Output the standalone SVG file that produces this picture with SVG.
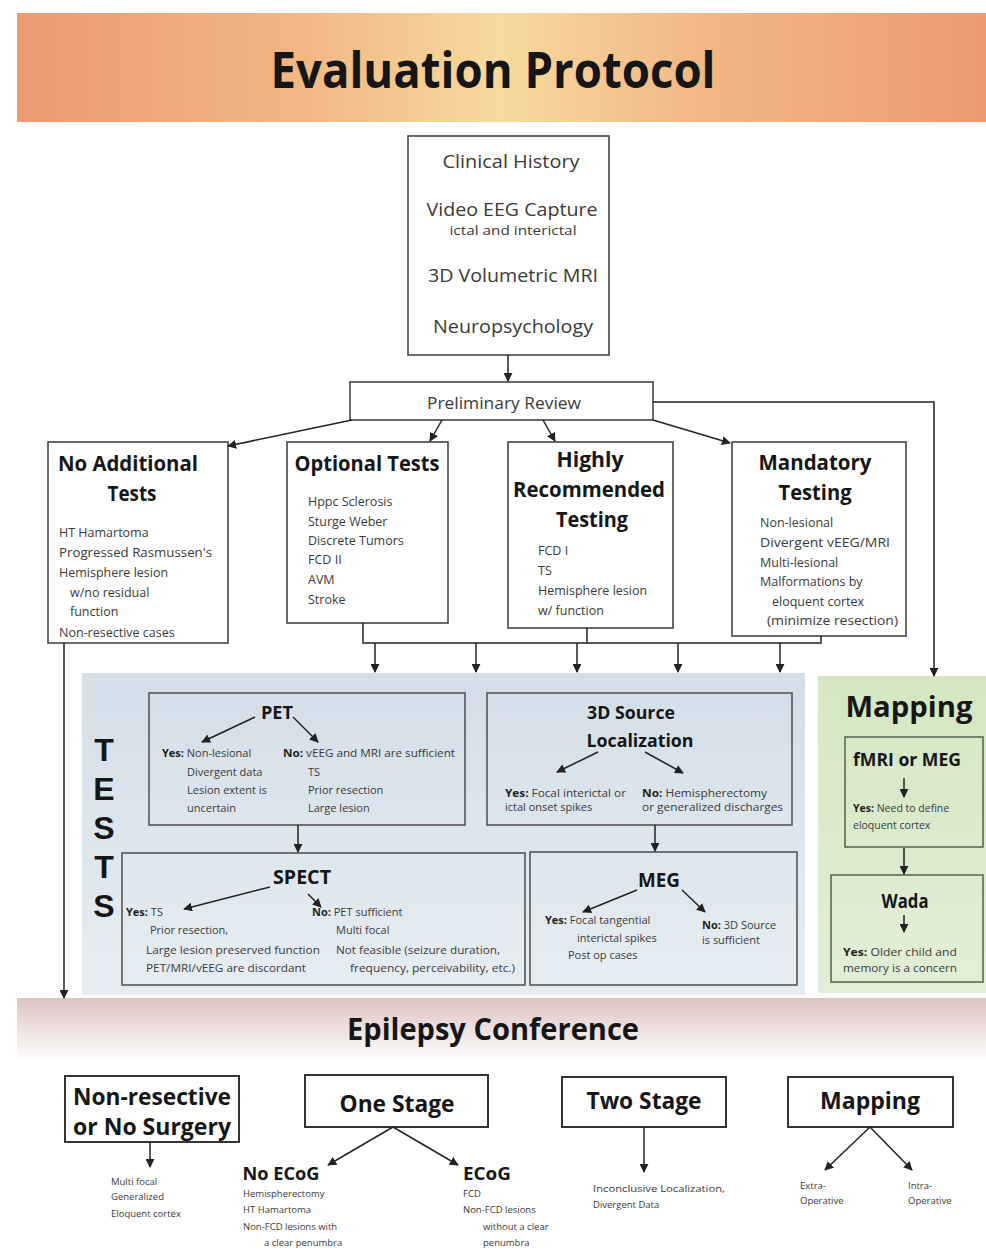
<svg xmlns="http://www.w3.org/2000/svg" width="986" height="1252" viewBox="0 0 986 1252">
<style>
.box{fill:#fff;stroke:#444;stroke-width:1.6}
.bbox{fill:#fff;stroke:#333;stroke-width:2}
.ibox{fill:none;stroke:#555;stroke-width:1.6}
.gbox{fill:none;stroke:#5a6a55;stroke-width:1.6}
.h{font-family:'Open Sans','Liberation Sans',sans-serif;font-weight:700;fill:#161616;text-anchor:middle}
.tl{font-family:'Liberation Sans',sans-serif;font-weight:700;fill:#161616;text-anchor:middle}
.t{font-family:'Open Sans','Liberation Sans',sans-serif;fill:#3a3a3a}
.tc{font-family:'Open Sans','Liberation Sans',sans-serif;fill:#3a3a3a;text-anchor:middle}
.b{font-weight:700;fill:#222}
.c{stroke:#222;stroke-width:1.5;fill:none}
.ca{stroke:#222;stroke-width:1.5;fill:none;marker-end:url(#ah)}
</style>
<defs>
<marker id="ah" viewBox="0 0 10 10" refX="9" refY="5" markerWidth="9" markerHeight="9" markerUnits="userSpaceOnUse" orient="auto"><path d="M0,0 L10,5 L0,10 z" fill="#222"/></marker>
<linearGradient id="gTitle" x1="0" y1="0" x2="1" y2="0">
<stop offset="0" stop-color="#ec9a70"/><stop offset="0.3" stop-color="#f1b884"/><stop offset="0.5" stop-color="#f7da9e"/><stop offset="0.7" stop-color="#f1b884"/><stop offset="1" stop-color="#ec9a70"/>
</linearGradient>
<linearGradient id="gBlue" x1="0" y1="0" x2="0" y2="1">
<stop offset="0" stop-color="#d2dee8"/><stop offset="0.5" stop-color="#dde6ed"/><stop offset="1" stop-color="#e6edf2"/>
</linearGradient>
<linearGradient id="gGreen" x1="0" y1="0" x2="0" y2="1">
<stop offset="0" stop-color="#d3e7c2"/><stop offset="1" stop-color="#e2efd8"/>
</linearGradient>
<linearGradient id="gConf" x1="0" y1="0" x2="0" y2="1">
<stop offset="0" stop-color="#dcc4c0"/><stop offset="0.5" stop-color="#eee2e0"/><stop offset="1" stop-color="#ffffff"/>
</linearGradient>
</defs>
<rect width="986" height="1252" fill="#fff"/>

<g id="title">
<rect x="17" y="13" width="969" height="109" fill="url(#gTitle)"/>
<text class="h" x="493" y="88" font-size="50" textLength="445" lengthAdjust="spacingAndGlyphs">Evaluation Protocol</text>
</g>

<g id="panels">
<rect id="tests-panel" x="82" y="673" width="723" height="322" fill="url(#gBlue)"/>
<rect id="mapping-panel" x="818" y="676" width="168" height="317" fill="url(#gGreen)"/>
<rect id="conference-band" x="17" y="998" width="969" height="64" fill="url(#gConf)"/>
</g>

<g id="clinical">
<rect class="box" x="408" y="136" width="201" height="219"/>
<text class="tc" x="511" y="168" font-size="19" textLength="137" lengthAdjust="spacingAndGlyphs">Clinical History</text>
<text class="tc" x="512" y="216" font-size="19" textLength="171" lengthAdjust="spacingAndGlyphs">Video EEG Capture</text>
<text class="tc" x="513" y="235" font-size="13" textLength="127" lengthAdjust="spacingAndGlyphs">ictal and interictal</text>
<text class="tc" x="513" y="282" font-size="19" textLength="170" lengthAdjust="spacingAndGlyphs">3D Volumetric MRI</text>
<text class="tc" x="513" y="333" font-size="19" textLength="160" lengthAdjust="spacingAndGlyphs">Neuropsychology</text>
</g>

<g id="prelim">
<rect class="box" x="350" y="382" width="303" height="38"/>
<text class="tc" x="504" y="409" font-size="16" textLength="154" lengthAdjust="spacingAndGlyphs">Preliminary Review</text>
</g>

<g id="no-additional">
<rect class="box" x="48" y="442" width="180" height="201"/>
<text class="h" x="128" y="471" font-size="21" textLength="140" lengthAdjust="spacingAndGlyphs">No Additional</text>
<text class="h" x="132" y="501" font-size="21" textLength="49" lengthAdjust="spacingAndGlyphs">Tests</text>
<text class="t" x="59" y="537" font-size="12.5">HT Hamartoma</text>
<text class="t" x="59" y="557" font-size="12.5" textLength="153" lengthAdjust="spacingAndGlyphs">Progressed Rasmussen's</text>
<text class="t" x="59" y="577" font-size="12.5">Hemisphere lesion</text>
<text class="t" x="70" y="597" font-size="12.5">w/no residual</text>
<text class="t" x="70" y="616" font-size="12.5">function</text>
<text class="t" x="59" y="637" font-size="12.5">Non-resective cases</text>
</g>

<g id="optional">
<rect class="box" x="287" y="442" width="161" height="181"/>
<text class="h" x="367" y="471" font-size="21" textLength="145" lengthAdjust="spacingAndGlyphs">Optional Tests</text>
<text class="t" x="308" y="506" font-size="12.5">Hppc Sclerosis</text>
<text class="t" x="308" y="526" font-size="12.5">Sturge Weber</text>
<text class="t" x="308" y="545" font-size="12.5">Discrete Tumors</text>
<text class="t" x="308" y="564" font-size="12.5">FCD II</text>
<text class="t" x="308" y="584" font-size="12.5">AVM</text>
<text class="t" x="308" y="604" font-size="12.5">Stroke</text>
</g>

<g id="highly">
<rect class="box" x="508" y="442" width="165" height="186"/>
<text class="h" x="590" y="467" font-size="21" textLength="67" lengthAdjust="spacingAndGlyphs">Highly</text>
<text class="h" x="589" y="497" font-size="21" textLength="152" lengthAdjust="spacingAndGlyphs">Recommended</text>
<text class="h" x="592" y="527" font-size="21" textLength="72" lengthAdjust="spacingAndGlyphs">Testing</text>
<text class="t" x="538" y="555" font-size="12.5">FCD I</text>
<text class="t" x="538" y="575" font-size="12.5">TS</text>
<text class="t" x="538" y="595" font-size="12.5">Hemisphere lesion</text>
<text class="t" x="538" y="615" font-size="12.5">w/ function</text>
</g>

<g id="mandatory">
<rect class="box" x="732" y="442" width="174" height="194"/>
<text class="h" x="815" y="470" font-size="21" textLength="113" lengthAdjust="spacingAndGlyphs">Mandatory</text>
<text class="h" x="815" y="500" font-size="21" textLength="73" lengthAdjust="spacingAndGlyphs">Testing</text>
<text class="t" x="760" y="527" font-size="12.5">Non-lesional</text>
<text class="t" x="760" y="547" font-size="12.5" textLength="130" lengthAdjust="spacingAndGlyphs">Divergent vEEG/MRI</text>
<text class="t" x="760" y="567" font-size="12.5">Multi-lesional</text>
<text class="t" x="760" y="586" font-size="12.5">Malformations by</text>
<text class="t" x="772" y="606" font-size="12.5">eloquent cortex</text>
<text class="t" x="767" y="625" font-size="12.5" textLength="131" lengthAdjust="spacingAndGlyphs">(minimize resection)</text>
</g>

<g id="tests-label">
<text class="tl" x="104" y="761" font-size="32">T</text>
<text class="tl" x="104" y="800" font-size="32">E</text>
<text class="tl" x="104" y="839" font-size="32">S</text>
<text class="tl" x="104" y="878" font-size="32">T</text>
<text class="tl" x="104" y="917" font-size="32">S</text>
</g>

<g id="pet">
<rect class="ibox" x="149" y="693" width="316" height="132"/>
<text class="h" x="277" y="719" font-size="18" textLength="32" lengthAdjust="spacingAndGlyphs">PET</text>
<text class="t" x="162" y="757" font-size="11"><tspan class="b">Yes:</tspan> Non-lesional</text>
<text class="t" x="187" y="776" font-size="11">Divergent data</text>
<text class="t" x="187" y="794" font-size="11">Lesion extent is</text>
<text class="t" x="187" y="812" font-size="11">uncertain</text>
<text class="t" x="283" y="757" font-size="11" textLength="172" lengthAdjust="spacingAndGlyphs"><tspan class="b">No:</tspan> vEEG and MRI are sufficient</text>
<text class="t" x="308" y="776" font-size="11">TS</text>
<text class="t" x="308" y="794" font-size="11">Prior resection</text>
<text class="t" x="308" y="812" font-size="11">Large lesion</text>
</g>

<g id="source3d">
<rect class="ibox" x="487" y="693" width="305" height="132"/>
<text class="h" x="631" y="719" font-size="18" textLength="88" lengthAdjust="spacingAndGlyphs">3D Source</text>
<text class="h" x="640" y="747" font-size="18" textLength="107" lengthAdjust="spacingAndGlyphs">Localization</text>
<text class="t" x="505" y="797" font-size="11" textLength="121" lengthAdjust="spacingAndGlyphs"><tspan class="b">Yes:</tspan> Focal interictal or</text>
<text class="t" x="505" y="811" font-size="11">ictal onset spikes</text>
<text class="t" x="642" y="797" font-size="11" textLength="125" lengthAdjust="spacingAndGlyphs"><tspan class="b">No:</tspan> Hemispherectomy</text>
<text class="t" x="642" y="811" font-size="11" textLength="141" lengthAdjust="spacingAndGlyphs">or generalized discharges</text>
</g>

<g id="spect">
<rect class="ibox" x="122" y="853" width="403" height="132"/>
<text class="h" x="302" y="884" font-size="19" textLength="58" lengthAdjust="spacingAndGlyphs">SPECT</text>
<text class="t" x="126" y="916" font-size="11"><tspan class="b">Yes:</tspan> TS</text>
<text class="t" x="150" y="934" font-size="11">Prior resection,</text>
<text class="t" x="146" y="954" font-size="11" textLength="174" lengthAdjust="spacingAndGlyphs">Large lesion preserved function</text>
<text class="t" x="146" y="972" font-size="11" textLength="160" lengthAdjust="spacingAndGlyphs">PET/MRI/vEEG are discordant</text>
<text class="t" x="312" y="916" font-size="11"><tspan class="b">No:</tspan> PET sufficient</text>
<text class="t" x="336" y="934" font-size="11">Multi focal</text>
<text class="t" x="336" y="954" font-size="11" textLength="164" lengthAdjust="spacingAndGlyphs">Not feasible (seizure duration,</text>
<text class="t" x="350" y="972" font-size="11" textLength="165" lengthAdjust="spacingAndGlyphs">frequency, perceivability, etc.)</text>
</g>

<g id="meg">
<rect class="ibox" x="530" y="852" width="267" height="133"/>
<text class="h" x="659" y="887" font-size="19" textLength="42" lengthAdjust="spacingAndGlyphs">MEG</text>
<text class="t" x="545" y="924" font-size="11"><tspan class="b">Yes:</tspan> Focal tangential</text>
<text class="t" x="577" y="942" font-size="11">interictal spikes</text>
<text class="t" x="568" y="959" font-size="11">Post op cases</text>
<text class="t" x="702" y="929" font-size="11"><tspan class="b">No:</tspan> 3D Source</text>
<text class="t" x="702" y="944" font-size="11">is sufficient</text>
</g>

<g id="mapping">
<text class="h" x="909" y="717" font-size="29" textLength="127" lengthAdjust="spacingAndGlyphs">Mapping</text>
</g>

<g id="fmri">
<rect class="gbox" x="845" y="737" width="138" height="110"/>
<text class="h" x="907" y="766" font-size="18" textLength="108" lengthAdjust="spacingAndGlyphs">fMRI or MEG</text>
<text class="t" x="853" y="812" font-size="10.5"><tspan class="b">Yes:</tspan> Need  to define</text>
<text class="t" x="853" y="829" font-size="10.5">eloquent cortex</text>
</g>

<g id="wada">
<rect class="gbox" x="831" y="875" width="152" height="107"/>
<text class="h" x="905" y="908" font-size="19" textLength="47" lengthAdjust="spacingAndGlyphs">Wada</text>
<text class="t" x="843" y="956" font-size="10.5" textLength="114" lengthAdjust="spacingAndGlyphs"><tspan class="b">Yes:</tspan> Older child and</text>
<text class="t" x="843" y="972" font-size="10.5" textLength="114" lengthAdjust="spacingAndGlyphs">memory is a concern</text>
</g>

<g id="conference">
<text class="h" x="493" y="1040" font-size="30" textLength="292" lengthAdjust="spacingAndGlyphs">Epilepsy Conference</text>
</g>

<g id="non-resective">
<rect class="bbox" x="65" y="1076" width="174" height="66"/>
<text class="h" x="152" y="1105" font-size="24" textLength="158" lengthAdjust="spacingAndGlyphs">Non-resective</text>
<text class="h" x="152" y="1135" font-size="24" textLength="158" lengthAdjust="spacingAndGlyphs">or No Surgery</text>
<text class="t" x="111" y="1185" font-size="9.5">Multi focal</text>
<text class="t" x="111" y="1200" font-size="9.5">Generalized</text>
<text class="t" x="111" y="1217" font-size="9.5">Eloquent cortex</text>
</g>

<g id="one-stage">
<rect class="bbox" x="305" y="1075" width="183" height="52"/>
<text class="h" x="397" y="1112" font-size="24" textLength="115" lengthAdjust="spacingAndGlyphs">One Stage</text>
<text class="h" x="281" y="1180" font-size="18" textLength="77" lengthAdjust="spacingAndGlyphs">No ECoG</text>
<text class="t" x="243" y="1197" font-size="9.5">Hemispherectomy</text>
<text class="t" x="243" y="1213" font-size="9.5">HT Hamartoma</text>
<text class="t" x="243" y="1230" font-size="9.5">Non-FCD lesions with</text>
<text class="t" x="264" y="1246" font-size="9.5">a clear penumbra</text>
<text class="h" x="487" y="1180" font-size="18" textLength="48" lengthAdjust="spacingAndGlyphs">ECoG</text>
<text class="t" x="463" y="1197" font-size="9.5">FCD</text>
<text class="t" x="463" y="1213" font-size="9.5">Non-FCD lesions</text>
<text class="t" x="483" y="1230" font-size="9.5">without a clear</text>
<text class="t" x="483" y="1246" font-size="9.5">penumbra</text>
</g>

<g id="two-stage">
<rect class="bbox" x="562" y="1077" width="164" height="50"/>
<text class="h" x="644" y="1109" font-size="24" textLength="115" lengthAdjust="spacingAndGlyphs">Two Stage</text>
<text class="t" x="593" y="1192" font-size="9.5" textLength="132" lengthAdjust="spacingAndGlyphs">Inconclusive Localization,</text>
<text class="t" x="593" y="1208" font-size="9.5">Divergent Data</text>
</g>

<g id="mapping-bottom">
<rect class="bbox" x="788" y="1077" width="165" height="50"/>
<text class="h" x="870" y="1109" font-size="24" textLength="100" lengthAdjust="spacingAndGlyphs">Mapping</text>
<text class="t" x="800" y="1189" font-size="9.5">Extra-</text>
<text class="t" x="800" y="1204" font-size="9.5">Operative</text>
<text class="t" x="908" y="1189" font-size="9.5">Intra-</text>
<text class="t" x="908" y="1204" font-size="9.5">Operative</text>
</g>

<g id="connectors">
<path class="ca" d="M508,355 V381"/>
<path class="ca" d="M653,402 H934 V676"/>
<path class="ca" d="M352,420 L228,446"/>
<path class="ca" d="M442,420 L430,441"/>
<path class="ca" d="M543,420 L555,441"/>
<path class="ca" d="M653,420 L730,443"/>
<path class="c" d="M363,623 V643 H821 V636"/>
<path class="c" d="M587,628 V643"/>
<path class="ca" d="M375,643 V672"/>
<path class="ca" d="M476,643 V672"/>
<path class="ca" d="M577,643 V672"/>
<path class="ca" d="M678,643 V672"/>
<path class="ca" d="M780,643 V672"/>
<path class="ca" d="M64,643 V998"/>
<path class="ca" d="M255,717 L202,742"/>
<path class="ca" d="M293,717 L318,742"/>
<path class="ca" d="M298,825 V852"/>
<path class="ca" d="M598,752 L557,772"/>
<path class="ca" d="M645,752 L683,773"/>
<path class="ca" d="M655,825 V851"/>
<path class="ca" d="M270,887 L184,909"/>
<path class="ca" d="M308,894 L321,907"/>
<path class="ca" d="M637,890 L583,912"/>
<path class="ca" d="M682,890 L705,912"/>
<path class="ca" d="M904,778 V797"/>
<path class="ca" d="M904,848 V874"/>
<path class="ca" d="M904,915 V932"/>
<path class="ca" d="M150,1142 V1167"/>
<path class="ca" d="M393,1127 L328,1165"/>
<path class="ca" d="M393,1127 L458,1165"/>
<path class="ca" d="M644,1127 V1172"/>
<path class="ca" d="M870,1127 L825,1170"/>
<path class="ca" d="M870,1127 L912,1170"/>
</g>
</svg>
